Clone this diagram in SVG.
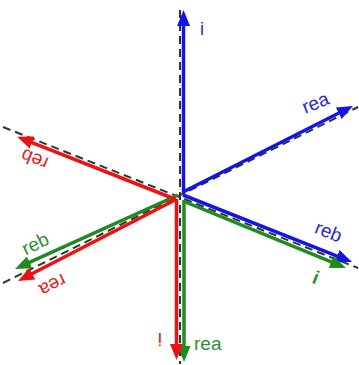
<svg xmlns="http://www.w3.org/2000/svg" width="359" height="365" viewBox="0 0 359 365">
<style>
.axis{stroke:#333;stroke-width:2;stroke-dasharray:8 5;fill:none}
.b{stroke:#1414e6;stroke-width:3.5;fill:none;marker-end:url(#mb)}
.r{stroke:#ee1111;stroke-width:3.5;fill:none;marker-end:url(#mr)}
.g{stroke:#1f8a1f;stroke-width:3.5;fill:none;marker-end:url(#mg)}
text{font-family:"Liberation Sans",Arial,sans-serif;font-size:19px;text-anchor:middle}
.tb{fill:#2a2ad2}.tr{fill:#e42020}.tg{fill:#2f8f2f}
</style>
<defs>
<marker id="mb" viewBox="0 0 16 13" markerWidth="16" markerHeight="13" markerUnits="userSpaceOnUse" refX="2" refY="6.5" orient="auto"><path d="M0,0 L16,6.5 L0,13 z" fill="#1414e6"/></marker>
<marker id="mr" viewBox="0 0 16 13" markerWidth="16" markerHeight="13" markerUnits="userSpaceOnUse" refX="2" refY="6.5" orient="auto"><path d="M0,0 L16,6.5 L0,13 z" fill="#ee1111"/></marker>
<marker id="mg" viewBox="0 0 16 13" markerWidth="16" markerHeight="13" markerUnits="userSpaceOnUse" refX="2" refY="6.5" orient="auto"><path d="M0,0 L16,6.5 L0,13 z" fill="#1f8a1f"/></marker>
</defs>
<rect width="359" height="365" fill="#fff"/>
<g id="axes">
<line class="axis" x1="180" y1="10" x2="180" y2="364"/>
<line class="axis" x1="3" y1="127" x2="358" y2="268"/>
<line class="axis" x1="3" y1="283" x2="358" y2="107"/>
</g>
<g id="connectors">
<line class="b" x1="183.5" y1="193" x2="183.5" y2="24"/>
<line class="b" x1="183" y1="192" x2="340.5" y2="112.3"/>
<line class="b" x1="183" y1="195" x2="339" y2="256.8"/>
<line class="g" x1="183" y1="201" x2="333" y2="262.7"/>
<line class="g" x1="184" y1="200" x2="184" y2="348"/>
<line class="r" x1="176.5" y1="199" x2="176.5" y2="346"/>
<line class="r" x1="176" y1="199.5" x2="30.5" y2="274.5"/>
<line class="g" x1="178" y1="195" x2="27.8" y2="263.2"/>
<line class="r" x1="176" y1="199.5" x2="30.2" y2="141.8"/>
</g>
<g id="label-blue-i"><text class="tb" x="202" y="35" style="font-size:18px">i</text></g>
<g id="label-blue-rea"><text class="tb" transform="translate(316,104) rotate(-22)" x="0" y="5">rea</text></g>
<g id="label-blue-reb"><text class="tb" transform="translate(328,233) rotate(22)" x="0" y="5">reb</text></g>
<g id="label-green-i"><text class="tg" transform="translate(316,277) rotate(22)" x="0" y="7" style="font-weight:bold">i</text></g>
<g id="label-green-rea"><text class="tg" x="194" y="350" style="text-anchor:start">rea</text></g>
<g id="label-green-reb"><text class="tg" transform="translate(36,245) rotate(-26)" x="0" y="5">reb</text></g>
<g id="label-red-reb"><text class="tr" transform="translate(35,158) rotate(202)" x="0" y="5">reb</text></g>
<g id="label-red-rea"><text class="tr" transform="translate(52,284) rotate(153)" x="0" y="5">rea</text></g>
<g id="label-red-i"><text class="tr" transform="translate(160,340) rotate(180)" x="0" y="7">i</text></g>
</svg>
